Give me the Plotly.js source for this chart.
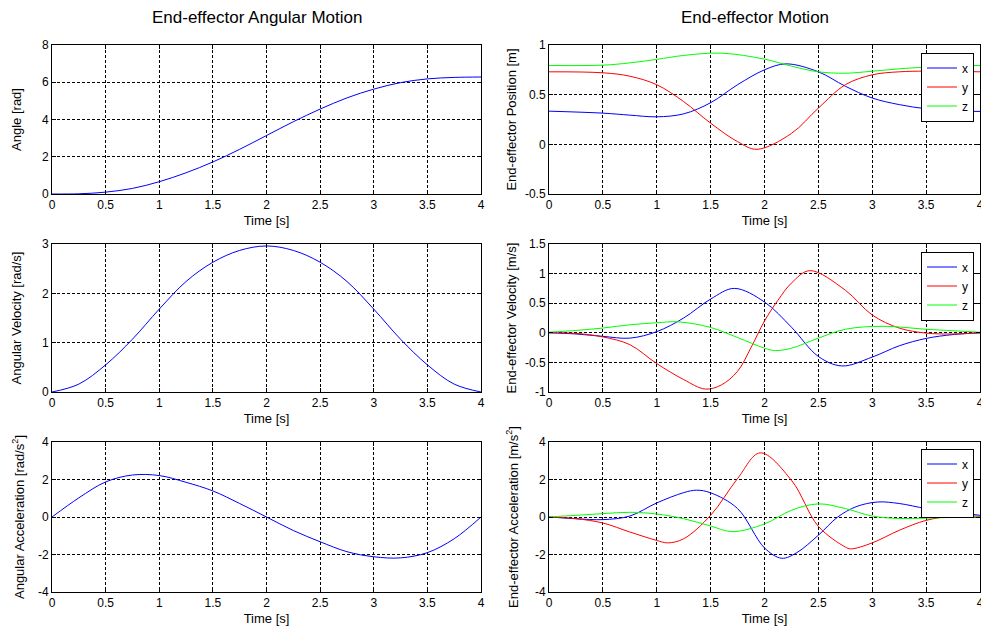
<!DOCTYPE html>
<html>
<head>
<meta charset="utf-8">
<script src="https://cdn.plot.ly/plotly-3.0.1.min.js"></script>
<style>html,body{margin:0;padding:0;background:#fff;}#chart{width:981px;height:631px;}</style>
</head>
<body>
<div id="chart"></div>
<script>
// ---- Data ----
const tAng = [0,0.25,0.5,0.75,1,1.25,1.5,1.75,2,2.25,2.5,2.75,3,3.25,3.5,3.75,4];
const angle = [0,0.01,0.1,0.3,0.66,1.14,1.72,2.4,3.14,3.88,4.56,5.16,5.63,5.98,6.18,6.26,6.28];
const angVel = [0,0.16,0.55,1.07,1.68,2.24,2.63,2.87,2.96,2.87,2.63,2.24,1.68,1.07,0.55,0.16,0];
const angAcc = [0,1.02,1.87,2.24,2.21,1.85,1.39,0.72,0,-0.72,-1.32,-1.85,-2.12,-2.18,-1.9,-1.16,0];

const tPosX = [0,0.5,0.75,1,1.25,1.5,1.75,2,2.2,2.5,2.75,3,3.25,3.5,3.75,4];
const posX = [0.334,0.314,0.294,0.277,0.307,0.419,0.60,0.75,0.81,0.73,0.585,0.466,0.40,0.358,0.338,0.331];
const tPosY = [0,0.5,0.75,1,1.25,1.5,1.75,1.93,2.25,2.5,2.75,3,3.25,3.5,4];
const posY = [0.73,0.72,0.686,0.60,0.43,0.213,0.027,-0.05,0.11,0.365,0.60,0.70,0.73,0.737,0.73];
const tPosZ = [0,0.5,0.75,1,1.25,1.6,2,2.25,2.5,2.75,3,3.25,3.5,4];
const posZ = [0.794,0.797,0.82,0.855,0.895,0.918,0.858,0.787,0.73,0.716,0.736,0.76,0.777,0.794];

const tVelX = [0,0.25,0.5,0.75,1,1.25,1.5,1.72,2,2.25,2.5,2.72,3,3.25,3.5,3.75,4];
const velX = [0,-0.02,-0.06,-0.09,0.02,0.25,0.57,0.75,0.52,0.095,-0.40,-0.56,-0.41,-0.22,-0.095,-0.03,0];
const tVelY = [0,0.25,0.5,0.75,1,1.25,1.45,1.6,1.75,1.875,2,2.125,2.25,2.42,2.75,3,3.25,3.5,3.75,4];
const velY = [0,-0.01,-0.07,-0.2,-0.52,-0.79,-0.95,-0.88,-0.65,-0.25,0.2,0.55,0.84,1.05,0.72,0.30,0.08,-0.005,-0.02,0];
const tVelZ = [0,0.25,0.5,0.75,1,1.2,1.5,1.75,2,2.1,2.25,2.5,2.75,3.1,3.5,3.75,4];
const velZ = [0.01,0.04,0.08,0.135,0.17,0.185,0.09,-0.08,-0.26,-0.30,-0.26,-0.09,0.06,0.11,0.06,0.035,0.01];

const tAccX = [0,0.25,0.5,0.75,1,1.25,1.37,1.5,1.75,2,2.16,2.3,2.5,2.68,2.85,3.05,3.25,3.5,3.75,4];
const accX = [0,-0.09,-0.14,0.05,0.75,1.30,1.43,1.29,0.45,-1.65,-2.2,-1.9,-0.97,0,0.55,0.8,0.72,0.45,0.27,0.09];
const tAccY = [0,0.25,0.5,0.75,1,1.1,1.25,1.5,1.75,1.96,2.25,2.5,2.75,2.8,3,3.25,3.5,3.75,4];
const accY = [0,-0.09,-0.32,-0.8,-1.25,-1.38,-1.16,0.09,2.05,3.42,1.96,-0.5,-1.6,-1.7,-1.38,-0.71,-0.18,0.05,0.04];
const tAccZ = [0,0.25,0.5,0.75,1,1.25,1.5,1.7,2,2.25,2.5,2.75,3,3.25,3.5,3.75,4];
const accZ = [0,0.09,0.18,0.25,0.16,-0.09,-0.48,-0.78,-0.37,0.36,0.70,0.45,0.05,-0.08,-0.06,-0.02,0];

const xTicks = [0,0.5,1,1.5,2,2.5,3,3.5,4];
const xTickText = ['0','0.5','1','1.5','2','2.5','3','3.5','4'];

const BLUE = '#0000ff', RED = '#ff0000', GREEN = '#00ff00';
const FONT = 'Liberation Sans, Arial, Helvetica, sans-serif';

function line(x, y, color, xa, ya, name, legend, show) {
  return {x: x, y: y, type: 'scatter', mode: 'lines', name: name,
    line: {color: color, width: 1, shape: 'spline', smoothing: 1},
    xaxis: xa, yaxis: ya, legend: legend, showlegend: show, hoverinfo: 'skip'};
}

const traces = [
  line(tAng, angle, BLUE, 'x', 'y', 'angle', 'legend', false),
  line(tAng, angVel, BLUE, 'x3', 'y3', 'angvel', 'legend', false),
  line(tAng, angAcc, BLUE, 'x5', 'y5', 'angacc', 'legend', false),
  line(tPosX, posX, BLUE, 'x2', 'y2', 'x', 'legend', true),
  line(tPosY, posY, RED, 'x2', 'y2', 'y', 'legend', true),
  line(tPosZ, posZ, GREEN, 'x2', 'y2', 'z', 'legend', true),
  line(tVelX, velX, BLUE, 'x4', 'y4', 'x', 'legend2', true),
  line(tVelY, velY, RED, 'x4', 'y4', 'y', 'legend2', true),
  line(tVelZ, velZ, GREEN, 'x4', 'y4', 'z', 'legend2', true),
  line(tAccX, accX, BLUE, 'x6', 'y6', 'x', 'legend3', true),
  line(tAccY, accY, RED, 'x6', 'y6', 'y', 'legend3', true),
  line(tAccZ, accZ, GREEN, 'x6', 'y6', 'z', 'legend3', true)
];

const W = 981, H = 631;
const colX = [[52/W, 481/W], [549/W, 980/W]];
const rowY = [[1-194/H, 1-45/H], [1-392/H, 1-244/H], [1-592/H, 1-442/H]];

function xaxis(col, row, anchor) {
  return {domain: colX[col], range: [0, 4], anchor: anchor,
    tickvals: xTicks, ticktext: xTickText, ticklabeloverflow: 'allow',
    ticks: 'inside', ticklen: 4, tickcolor: '#000', mirror: 'ticks',
    showline: true, linecolor: '#000', linewidth: 1,
    showgrid: true, gridcolor: '#000', gridwidth: 1, griddash: '3px,2px',
    zeroline: false, tickfont: {family: FONT, size: 12, color: '#000'},
    title: {text: 'Time [s]', font: {family: FONT, size: 13, color: '#000'}, standoff: 4},
    fixedrange: true};
}
function yaxis(col, row, anchor, range, ticks, title, standoff) {
  return {domain: rowY[row], range: range, anchor: anchor,
    tickvals: ticks, ticktext: ticks.map(String), ticklabeloverflow: 'allow',
    ticks: 'inside', ticklen: 4, tickcolor: '#000', mirror: 'ticks',
    showline: true, linecolor: '#000', linewidth: 1,
    showgrid: true, gridcolor: '#000', gridwidth: 1, griddash: '3px,2px',
    zeroline: false, tickfont: {family: FONT, size: 12, color: '#000'},
    title: {text: title, font: {family: FONT, size: 13, color: '#000'}, standoff: standoff},
    fixedrange: true};
}

const legendBase = {x: 974/W, xanchor: 'right', bgcolor: '#fff', bordercolor: '#000', borderwidth: 1,
  font: {family: FONT, size: 12, color: '#000'}, itemwidth: 30, tracegroupgap: 0};

const layout = {
  width: W, height: H, margin: {l: 0, r: 0, t: 0, b: 0},
  paper_bgcolor: '#fff', plot_bgcolor: '#fff', showlegend: true,
  xaxis: xaxis(0, 0, 'y'),
  yaxis: yaxis(0, 0, 'x', [0, 8], [0,2,4,6,8], 'Angle [rad]', 17),
  xaxis2: xaxis(1, 0, 'y2'),
  yaxis2: yaxis(1, 0, 'x2', [-0.5, 1], [-0.5,0,0.5,1], 'End-effector Position [m]', 5),
  xaxis3: xaxis(0, 1, 'y3'),
  yaxis3: yaxis(0, 1, 'x3', [0, 3], [0,1,2,3], 'Angular Velocity [rad/s]', 17),
  xaxis4: xaxis(1, 1, 'y4'),
  yaxis4: yaxis(1, 1, 'x4', [-1, 1.5], [-1,-0.5,0,0.5,1,1.5], 'End-effector Velocity [m/s]', 5),
  xaxis5: xaxis(0, 2, 'y5'),
  yaxis5: yaxis(0, 2, 'x5', [-4, 4], [-4,-2,0,2,4], 'Angular Acceleration [rad/s<sup>2</sup>]', 10),
  xaxis6: xaxis(1, 2, 'y6'),
  yaxis6: yaxis(1, 2, 'x6', [-4, 4], [-4,-2,0,2,4], 'End-effector Acceleration [m/s<sup>2</sup>]', 13),
  legend: Object.assign({}, legendBase, {y: 1-52.5/H, yanchor: 'top'}),
  legend2: Object.assign({}, legendBase, {y: 1-251.5/H, yanchor: 'top'}),
  legend3: Object.assign({}, legendBase, {y: 1-448.5/H, yanchor: 'top'}),
  annotations: [
    {text: 'End-effector Angular Motion', xref: 'paper', yref: 'paper', x: 257/W, y: 1-17/H,
     xanchor: 'center', yanchor: 'middle', showarrow: false, font: {family: FONT, size: 17, color: '#000'}},
    {text: 'End-effector Motion', xref: 'paper', yref: 'paper', x: 755/W, y: 1-17/H,
     xanchor: 'center', yanchor: 'middle', showarrow: false, font: {family: FONT, size: 17, color: '#000'}}
  ]
};

Plotly.newPlot('chart', traces, layout, {staticPlot: true, displayModeBar: false});
</script>
</body>
</html>
